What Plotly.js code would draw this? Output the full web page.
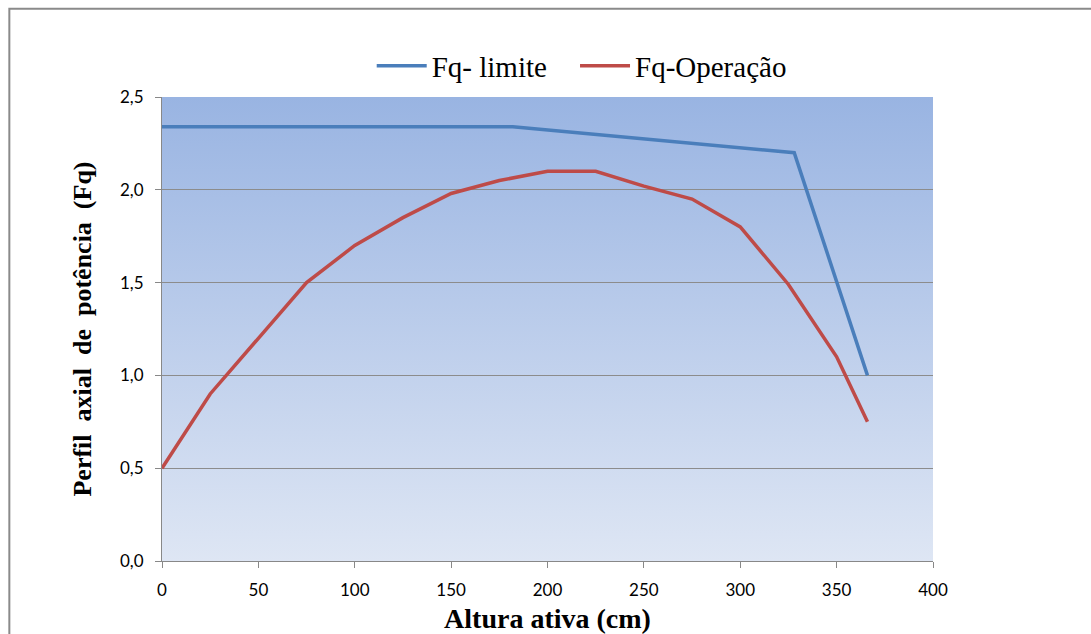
<!DOCTYPE html>
<html>
<head>
<meta charset="utf-8">
<script src="https://cdn.plot.ly/plotly-3.0.1.min.js"></script>
<style>html,body{margin:0;padding:0;background:#fff;}#chart{width:1091px;height:634px;}</style>
</head>
<body>
<div id="chart"></div>
<script>
const limiteX = [0, 182, 328, 366];
const limiteY = [2.34, 2.34, 2.2, 1.0];
const operacaoX = [0, 25, 50, 75, 100, 125, 150, 175, 200, 225, 250, 275, 300, 325, 350, 366];
const operacaoY = [0.5, 0.9, 1.2, 1.5, 1.7, 1.85, 1.98, 2.05, 2.1, 2.1, 2.02, 1.95, 1.8, 1.49, 1.1, 0.75];
const seriesNames = ['Fq- limite', 'Fq-Operação'];
const xTicks = [0, 50, 100, 150, 200, 250, 300, 350, 400];
const yTicks = [0, 0.5, 1.0, 1.5, 2.0, 2.5];

const SERIF = 'Liberation Serif';
const SANS = 'Lato';

const gradSvg = '<svg xmlns="http://www.w3.org/2000/svg" width="100" height="100" preserveAspectRatio="none">' +
  '<defs><linearGradient id="g" x1="0" y1="0" x2="0" y2="1">' +
  '<stop offset="0" stop-color="#99b4e2"/><stop offset="1" stop-color="#dee6f4"/></linearGradient></defs>' +
  '<rect width="100" height="100" fill="url(#g)"/></svg>';
const gradUrl = 'data:image/svg+xml;charset=utf-8,' + encodeURIComponent(gradSvg);

const traces = [
  {x: limiteX, y: limiteY, name: seriesNames[0], legend: 'legend', mode: 'lines', line: {color: '#4a7ebb', width: 3.5}},
  {x: operacaoX, y: operacaoY, name: seriesNames[1], legend: 'legend2', mode: 'lines', line: {color: '#be4b48', width: 3.5}}
];

const legendBase = {orientation: 'h', xanchor: 'left', y: 1.067, yanchor: 'middle',
  font: {family: 'Times New Roman', size: 29, color: '#000'},
  bgcolor: 'rgba(0,0,0,0)', itemwidth: 50};

const layout = {
  width: 1091, height: 634,
  margin: {l: 162, r: 158, t: 97, b: 73},
  paper_bgcolor: '#ffffff',
  plot_bgcolor: 'rgba(0,0,0,0)',
  separators: ',.',
  showlegend: true,
  font: {family: SANS},
  legend: Object.assign({}, legendBase, {x: 0.272}),
  legend2: Object.assign({}, legendBase, {x: 0.5357}),
  xaxis: {
    range: [0, 400], tickvals: xTicks, ticktext: xTicks.map(String),
    showgrid: false, zeroline: false, showline: true, linecolor: '#888', linewidth: 1,
    ticks: 'outside', ticklen: 6, tickcolor: '#888', ticklabelstandoff: 8,
    tickfont: {family: SANS, size: 17, color: '#000'},
    title: {text: 'Altura ativa (cm)', standoff: 8,
      font: {family: SERIF, size: 28, color: '#000', weight: 'bold'}}
  },
  yaxis: {
    range: [0, 2.5], tickvals: yTicks, tickformat: '.1f',
    showgrid: true, gridcolor: '#8c8c8c', gridwidth: 1, zeroline: false,
    showline: true, linecolor: '#888', linewidth: 1,
    ticks: 'outside', ticklen: 6, tickcolor: '#888', ticklabelstandoff: 8,
    tickfont: {family: SANS, size: 17, color: '#000'},
    title: {text: 'Perfil\u00a0 axial\u00a0 de\u00a0 potência\u00a0 (Fq)', standoff: 20,
      font: {family: SERIF, size: 26, color: '#000', weight: 'bold'}}
  },
  images: [{source: gradUrl, xref: 'paper', yref: 'paper', x: 0, y: 1, sizex: 1, sizey: 1,
    xanchor: 'left', yanchor: 'top', sizing: 'stretch', layer: 'below'}],
  shapes: [{type: 'rect', xref: 'paper', yref: 'paper', x0: -0.198, x1: 1.5, y0: -0.5, y1: 1.19,
    line: {color: '#8a8a8a', width: 2}, fillcolor: 'rgba(0,0,0,0)', layer: 'below'}]
};

Plotly.newPlot('chart', traces, layout, {displayModeBar: false, staticPlot: true});
</script>
</body>
</html>
